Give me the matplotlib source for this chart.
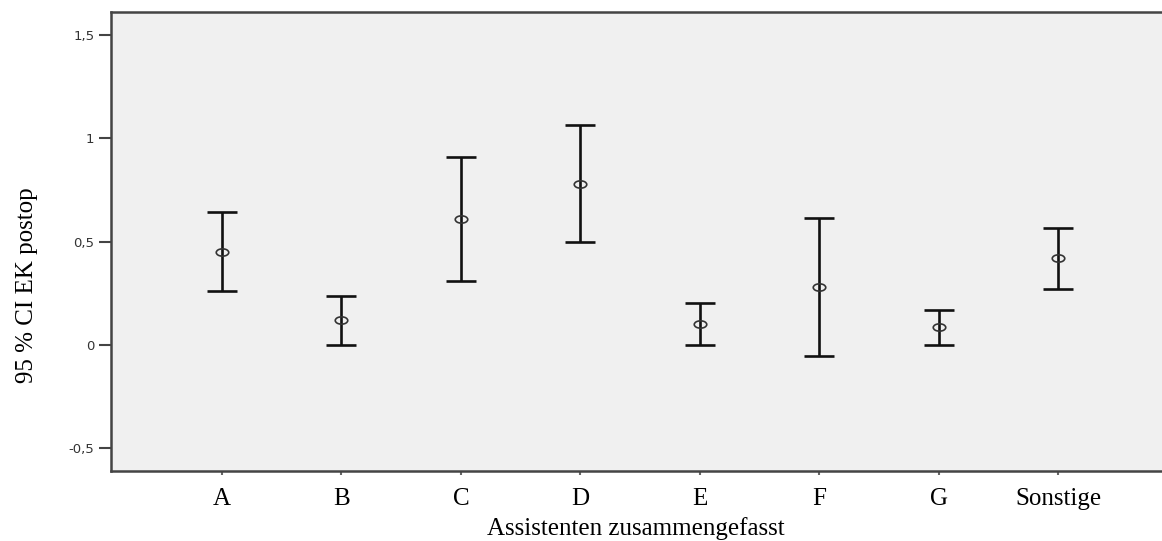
import matplotlib
matplotlib.use("Agg")
import matplotlib.pyplot as plt
import numpy as np
from matplotlib.path import Path
from matplotlib.transforms import Affine2D

# values (95% CI of EK postop per assistant)
categories = ['A', 'B', 'C', 'D', 'E', 'F', 'G', 'Sonstige']
means = [0.451, 0.121, 0.609, 0.779, 0.103, 0.280, 0.085, 0.419]
lower = [0.262, 0.0, 0.308, 0.496, 0.0, -0.053, 0.0, 0.272]
upper = [0.641, 0.237, 0.910, 1.063, 0.203, 0.615, 0.169, 0.567]
ytick_vals = [-0.5, 0, 0.5, 1, 1.5]
ytick_labels = ['-0,5', '0', '0,5', '1', '1,5']

W, H = 1162, 541
fig = plt.figure(figsize=(W / 100, H / 100), dpi=100)
fig.patch.set_facecolor('white')
# axes box: left 111px, top 12px, bottom 471px, right edge just off the picture
ax = fig.add_axes([111 / W, (H - 471) / H, (1169 - 111) / W, (471 - 12) / H])
ax.set_facecolor('#f0f0f0')

x = np.arange(len(categories))
m = np.array(means)
err = [m - np.array(lower), np.array(upper) - m]

ax.errorbar(x, m, yerr=err, fmt='none', ecolor='#111111', elinewidth=1.9,
            capsize=10.8, capthick=1.9, zorder=2)

ellipse = Path.unit_circle().transformed(Affine2D().scale(1.7, 1.0))
ax.plot(x, m, linestyle='none', marker=ellipse, markersize=9,
        markerfacecolor='none', markeredgecolor='#333333', markeredgewidth=1.2,
        zorder=3)

ax.set_xlim(-0.93, 7.93)
ax.set_ylim(-0.61, 1.61)

ax.set_yticks(ytick_vals)
ax.set_yticklabels(ytick_labels, fontfamily='DejaVu Sans', fontsize=9.5, color='#333333')
ax.set_xticks(x)
ax.set_xticklabels(categories, fontfamily='Liberation Serif', fontsize=18, color='black')

ax.tick_params(axis='y', length=9, width=1.5, color='#444444', pad=3)
ax.tick_params(axis='x', length=3, width=1.5, color='#666666', pad=9)

for side in ['top', 'left', 'bottom']:
    ax.spines[side].set_color('#444444')
    ax.spines[side].set_linewidth(1.8)
ax.spines['right'].set_visible(False)

fig.text(27 / W, 1 - 285 / H, '95 % CI EK postop', rotation=90,
         ha='center', va='center', fontfamily='Liberation Serif', fontsize=18)
fig.text(636 / W, 1 - 535 / H, 'Assistenten zusammengefasst',
         ha='center', va='baseline', fontfamily='Liberation Serif', fontsize=18)

fig.savefig('out.png', dpi=100)
